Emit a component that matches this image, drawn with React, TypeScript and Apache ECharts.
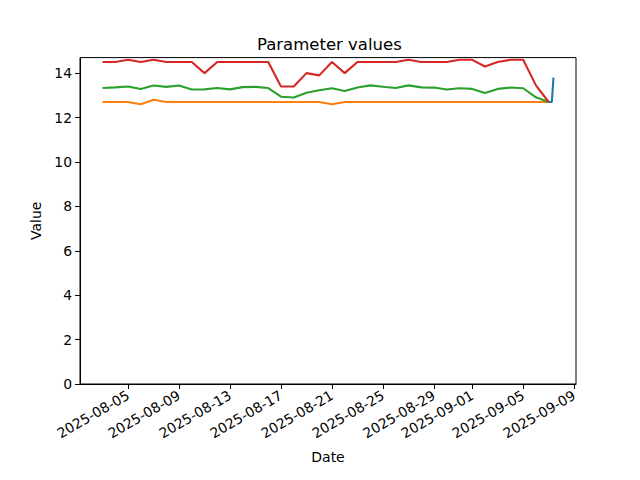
import React, { useEffect, useRef } from "react";
import * as echarts from "echarts";

const startDate = "2025-08-03";
const orangeValues = [12.7, 12.7, 12.7, 12.6, 12.8, 12.7, 12.7, 12.7, 12.7, 12.7, 12.7, 12.7, 12.7, 12.7, 12.7, 12.7, 12.7, 12.7, 12.6, 12.7, 12.7, 12.7, 12.7, 12.7, 12.7, 12.7, 12.7, 12.7, 12.7, 12.7, 12.7, 12.7, 12.7, 12.7, 12.7, 12.7];
const greenValues = [13.33, 13.36, 13.4, 13.29, 13.44, 13.38, 13.44, 13.26, 13.27, 13.33, 13.27, 13.37, 13.38, 13.33, 12.94, 12.9, 13.12, 13.23, 13.32, 13.2, 13.35, 13.45, 13.39, 13.33, 13.45, 13.36, 13.35, 13.26, 13.32, 13.29, 13.11, 13.29, 13.35, 13.32, 12.91, 12.7];
const redValues = [14.5, 14.5, 14.6, 14.5, 14.6, 14.5, 14.5, 14.5, 14.0, 14.5, 14.5, 14.5, 14.5, 14.5, 13.4, 13.4, 14.0, 13.9, 14.5, 14.0, 14.5, 14.5, 14.5, 14.5, 14.6, 14.5, 14.5, 14.5, 14.6, 14.6, 14.3, 14.5, 14.6, 14.6, 13.45, 12.7];
const blueTimes = ["2025-09-07T00:00:00Z", "2025-09-07T06:00:00Z", "2025-09-07T09:00:00Z"];
const blueValues = [12.7, 12.7, 13.8];
const xTickLabels = ["2025-08-05", "2025-08-09", "2025-08-13", "2025-08-17", "2025-08-21", "2025-08-25", "2025-08-29", "2025-09-01", "2025-09-05", "2025-09-09"];
const yTickValues = [0, 2, 4, 6, 8, 10, 12, 14];
const yMax = 14.7;

const DAY = 86400000;
const t0 = Date.parse(startDate + "T00:00:00Z");
const dailyTimes = orangeValues.map((_, i) => t0 + i * DAY);

const pairs = (times: number[], vals: number[]) => times.map((t, i) => [t, vals[i]]);

export default function App() {
  const ref = useRef<HTMLDivElement>(null);
  useEffect(() => {
    if (!ref.current) return;
    const chart = echarts.init(ref.current, undefined, { renderer: "svg" });
    const blueT = blueTimes.map((s) => Date.parse(s));
    const allT = [...dailyTimes, ...blueT];
    const tMin = Math.min(...allT);
    const tMax = Math.max(...allT);
    const pad = (tMax - tMin) * 0.05;
    const font = "DejaVu Sans";
    const lineSeries = (name: string, color: string, data: number[][]) => ({
      name,
      type: "line",
      data,
      showSymbol: false,
      symbol: "none",
      lineStyle: { color, width: 2.1 },
      itemStyle: { color },
    });
    const xTicks = xTickLabels.map((s) => Date.parse(s + "T00:00:00Z"));
    chart.setOption({
      animation: false,
      title: {
        text: "Parameter values",
        left: 252,
        top: 31,
        textStyle: { fontFamily: font, fontSize: 16.5, fontWeight: "normal", color: "#000" },
      },
      grid: {
        left: 80,
        right: 64,
        top: 57.6,
        bottom: 96,
        show: true,
        borderColor: "#000",
        borderWidth: 1,
        backgroundColor: "transparent",
      },
      xAxis: {
        type: "value",
        min: tMin - pad,
        max: tMax + pad,
        name: "Date",
        nameLocation: "middle",
        nameGap: 66,
        nameTextStyle: { fontFamily: font, fontSize: 14, color: "#000" },
        axisLine: { lineStyle: { color: "#000", width: 1 } },
        axisTick: {
          show: true,
          length: 5,
          lineStyle: { color: "#000" },
          customValues: xTicks,
        },
        axisLabel: {
          customValues: xTicks,
          rotate: 30,
          margin: 10,
          fontFamily: font,
          fontSize: 13.9,
          color: "#000",
          formatter: (v: number) => new Date(v).toISOString().slice(0, 10),
        },
        splitLine: { show: false },
      },
      yAxis: {
        type: "value",
        min: 0,
        max: yMax,
        name: "Value",
        nameLocation: "middle",
        nameGap: 36,
        nameRotate: 90,
        nameTextStyle: { fontFamily: font, fontSize: 14, color: "#000" },
        axisLine: { show: true, lineStyle: { color: "#000", width: 1 } },
        axisTick: { show: true, length: 5, lineStyle: { color: "#000" }, customValues: yTickValues },
        axisLabel: {
          customValues: yTickValues,
          margin: 8,
          fontFamily: font,
          fontSize: 13.9,
          color: "#000",
        },
        splitLine: { show: false },
      },
      series: [
        lineSeries("blue", "#1f77b4", pairs(blueT, blueValues)),
        lineSeries("orange", "#ff7f0e", pairs(dailyTimes, orangeValues)),
        lineSeries("green", "#2ca02c", pairs(dailyTimes, greenValues)),
        lineSeries("red", "#d62728", pairs(dailyTimes, redValues)),
      ],
    });
    return () => chart.dispose();
  }, []);
  return (
    <div
      ref={ref}
      style={{ position: "fixed", left: 0, top: 0, width: 640, height: 480, background: "#fff" }}
    />
  );
}
